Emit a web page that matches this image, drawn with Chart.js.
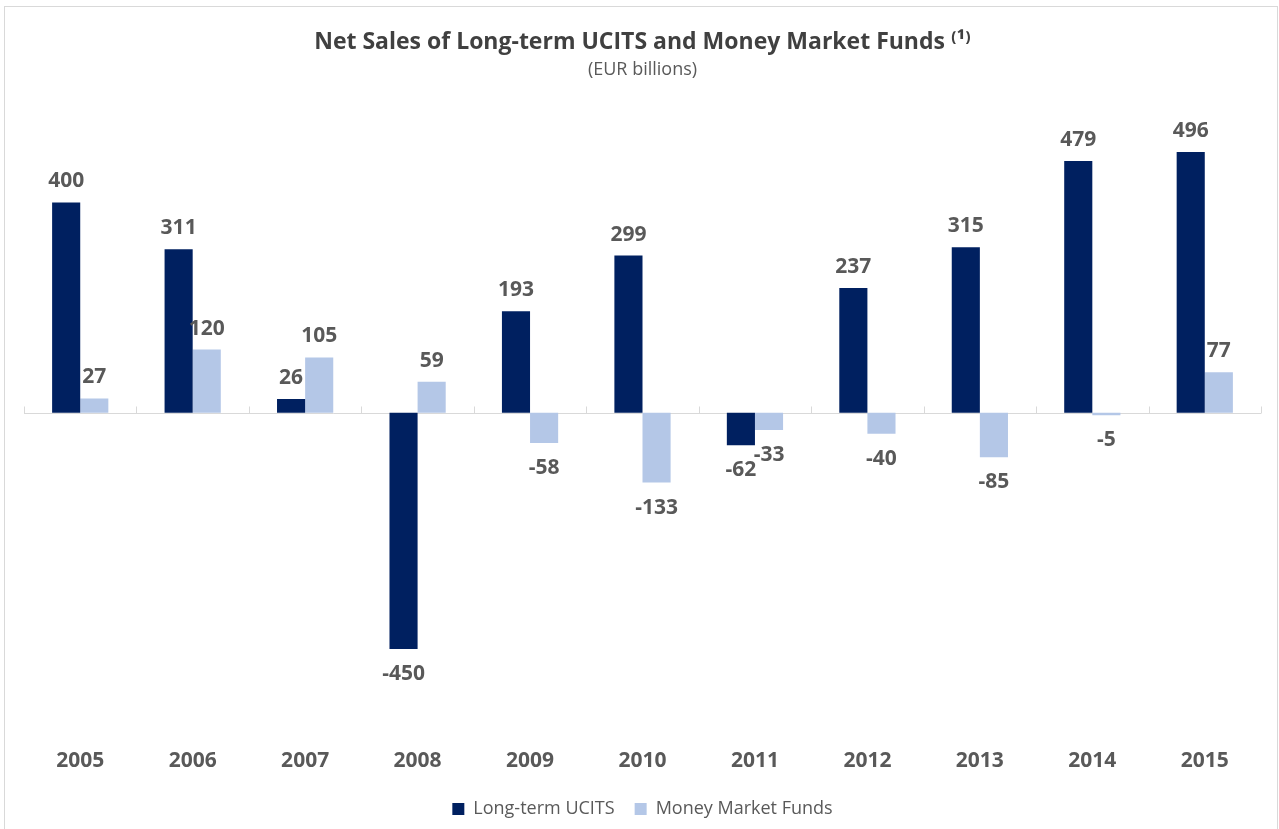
<!DOCTYPE html>
<html>
  <head>
    <title>Net Sales of Long-term UCITS and Money Market Funds</title>
    <script src="https://cdn.jsdelivr.net/npm/chart.js"></script>
    <style>
      body { margin: 0; background: #ffffff; }
      #frame {
        position: absolute; left: 4px; top: 6px; width: 1272px; height: 830px;
        border: 1px solid #d9d9d9; border-bottom: none;
      }
    </style>
  </head>
  <body>
    <div id="frame"><canvas id="bar-chart" width="1272" height="822"></canvas></div>
    <script>
      // Values (EUR billions)
      const years = ["2005", "2006", "2007", "2008", "2009", "2010", "2011", "2012", "2013", "2014", "2015"];
      const longTermUcits = [400, 311, 26, -450, 193, 299, -62, 237, 315, 479, 496];
      const moneyMarketFunds = [27, 120, 105, 59, -58, -133, -33, -40, -85, -5, 77];

      const labelFont = "bold 21px 'Open Sans'";
      const labelColor = "#595959";

      // Values above / below each bar
      const valueLabels = {
        id: "valueLabels",
        afterDatasetsDraw(chart) {
          const ctx = chart.ctx;
          ctx.save();
          ctx.font = labelFont;
          ctx.fillStyle = labelColor;
          ctx.textAlign = "center";
          ctx.textBaseline = "middle";
          chart.data.datasets.forEach((ds, i) => {
            chart.getDatasetMeta(i).data.forEach((bar, j) => {
              const v = ds.data[j];
              const y = v >= 0 ? bar.y - 21 : bar.y + 25;
              ctx.fillText(String(v), bar.x, y);
            });
          });
          ctx.restore();
        }
      };

      // Horizontal axis line at zero, with small ticks between the years
      const zeroAxis = {
        id: "zeroAxis",
        beforeDatasetsDraw(chart) {
          const ctx = chart.ctx;
          const x = chart.scales.x;
          const y0 = Math.round(chart.scales.y.getPixelForValue(0)) + 0.5;
          ctx.save();
          ctx.strokeStyle = "#d9d9d9";
          ctx.lineWidth = 1;
          ctx.beginPath();
          ctx.moveTo(x.left, y0);
          ctx.lineTo(x.right, y0);
          const step = (x.right - x.left) / years.length;
          for (let i = 0; i <= years.length; i++) {
            const px = Math.round(x.left + step * i) + 0.5;
            ctx.moveTo(px, y0);
            ctx.lineTo(px, y0 - 7);
          }
          ctx.stroke();
          ctx.restore();
        }
      };

      const ctx = document.getElementById("bar-chart").getContext("2d");
      new Chart(ctx, {
        type: "bar",
        data: {
          labels: years,
          datasets: [
            { label: "Long-term UCITS", data: longTermUcits, backgroundColor: "#002060" },
            { label: "Money Market Funds", data: moneyMarketFunds, backgroundColor: "#b4c7e7" }
          ]
        },
        options: {
          responsive: false,
          animation: false,
          layout: { padding: { left: 19, right: 16, top: 0, bottom: 1 } },
          datasets: { bar: { barPercentage: 1, categoryPercentage: 0.5 } },
          scales: {
            x: {
              grid: { display: false, drawTicks: false },
              border: { display: false },
              ticks: { color: labelColor, font: { family: "Open Sans", size: 21, weight: "bold" }, padding: 2 },
              afterFit(axis) { axis.height += 4; }
            },
            y: {
              display: false,
              min: -636,
              max: 608
            }
          },
          plugins: {
            title: {
              display: true,
              text: "Net Sales of Long-term UCITS and Money Market Funds \u207D\u00B9\u207E",
              color: "#404040",
              font: { family: "Open Sans", size: 23, weight: "bold" },
              padding: { top: 22, bottom: 2 }
            },
            subtitle: {
              display: true,
              text: "(EUR billions)",
              color: "#595959",
              font: { family: "Open Sans", size: 18 },
              padding: { top: 0, bottom: 13 }
            },
            legend: {
              position: "bottom",
              labels: {
                color: labelColor,
                font: { family: "Open Sans", size: 18 },
                boxWidth: 12,
                boxHeight: 12,
                padding: 20
              }
            },
            tooltip: { enabled: false }
          }
        },
        plugins: [zeroAxis, valueLabels]
      });
    </script>
  </body>
</html>
